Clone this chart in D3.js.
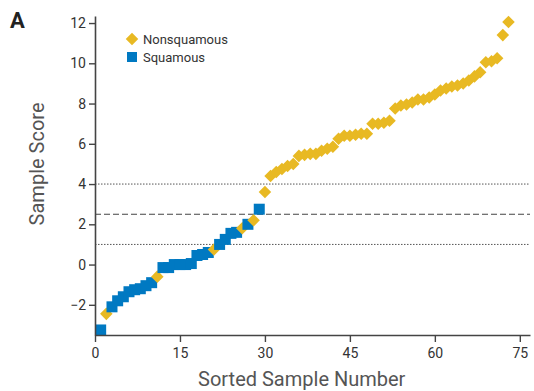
<!DOCTYPE html>
<html>
<head>
<meta charset="utf-8">
<script src="https://cdn.jsdelivr.net/npm/d3@7"></script>
<style>
  body { margin: 0; background: #fff; }
  text { font-family: "Liberation Sans Narrow", "Roboto", "Liberation Sans", sans-serif; }
</style>
</head>
<body>
<div id="chart"></div>
<script>
// Sample scores, sorted (sample number = index + 1)
const scores = [
  -3.25, -2.45, -2.1, -1.8, -1.6, -1.35, -1.25, -1.2, -1.05, -0.9,
  -0.6, -0.15, -0.15, 0.0, 0.0, 0.0, 0.05, 0.45, 0.5, 0.6,
  0.75, 1.0, 1.25, 1.55, 1.6, 1.8, 2.0, 2.2, 2.75, 3.6,
  4.4, 4.6, 4.75, 4.9, 5.0, 5.4, 5.45, 5.5, 5.5, 5.65,
  5.75, 5.85, 6.25, 6.4, 6.4, 6.45, 6.5, 6.5, 7.0, 7.0,
  7.05, 7.15, 7.75, 7.9, 7.95, 8.05, 8.2, 8.2, 8.3, 8.45,
  8.65, 8.75, 8.85, 8.9, 9.0, 9.15, 9.35, 9.55, 10.05, 10.1,
  10.25, 11.4, 12.05
];
// N = nonsquamous, S = squamous
const histology = [
  "S", "N", "S", "S", "S", "S", "S", "S", "S", "S",
  "N", "S", "S", "S", "S", "S", "S", "S", "S", "S",
  "N", "S", "S", "S", "S", "N", "S", "N", "S", "N",
  "N", "N", "N", "N", "N", "N", "N", "N", "N", "N",
  "N", "N", "N", "N", "N", "N", "N", "N", "N", "N",
  "N", "N", "N", "N", "N", "N", "N", "N", "N", "N",
  "N", "N", "N", "N", "N", "N", "N", "N", "N", "N",
  "N", "N", "N"
];
const xTicks = [0, 15, 30, 45, 60, 75];
const yTicks = [-2, 0, 2, 4, 6, 8, 10, 12];
const dottedLines = [4, 1];
const dashedLine = 2.5;

const W = 534, H = 391;
const margin = { top: 16, right: 4, bottom: 56, left: 95 };
const width = W - margin.left - margin.right,
      height = H - margin.top - margin.bottom;

const yellow = "#e8b923", blue = "#0079c2";

const svg = d3.select("#chart").append("svg")
  .attr("width", W).attr("height", H);
const g = svg.append("g")
  .attr("transform", `translate(${margin.left},${margin.top})`);

const x = d3.scaleLinear().domain([0, 76.8]).range([0, width]);
const y = d3.scaleLinear().domain([-3.5, 12.35]).range([height, 0]);

// reference lines
g.selectAll(".dot-line").data(dottedLines).enter().append("line")
  .attr("x1", 0).attr("x2", width)
  .attr("y1", d => y(d)).attr("y2", d => y(d))
  .attr("stroke", "#555").attr("stroke-width", 1)
  .attr("stroke-dasharray", "1.5,1.5");
g.append("line")
  .attr("x1", 0).attr("x2", width)
  .attr("y1", y(dashedLine)).attr("y2", y(dashedLine))
  .attr("stroke", "#444").attr("stroke-width", 1.2)
  .attr("stroke-dasharray", "6,3");

// points
const data = scores.map((v, i) => ({ n: i + 1, v, h: histology[i] }));
const diamond = d3.symbol().type(d3.symbolDiamond2).size(100);
data.forEach(d => {
  if (d.h === "N") {
    g.append("path")
      .attr("d", diamond())
      .attr("transform", `translate(${x(d.n)},${y(d.v)})`)
      .attr("fill", yellow);
  } else {
    g.append("rect")
      .attr("x", x(d.n) - 5.5).attr("y", y(d.v) - 5.5)
      .attr("width", 11).attr("height", 11)
      .attr("fill", blue);
  }
});

// axes
const axisColor = "#444";
const xAxis = g.append("g")
  .attr("transform", `translate(0,${height})`)
  .call(d3.axisBottom(x).tickValues(xTicks).tickSize(7).tickSizeOuter(0));
const yAxis = g.append("g")
  .call(d3.axisLeft(y).tickValues(yTicks).tickSize(6).tickSizeOuter(0));
[xAxis, yAxis].forEach(a => {
  a.select(".domain").attr("stroke", axisColor).attr("stroke-width", 1.6);
  a.selectAll(".tick line").attr("stroke", axisColor).attr("stroke-width", 1.4);
  a.selectAll(".tick text").attr("fill", "#333").attr("font-size", 14);
});
xAxis.selectAll(".tick text").attr("dy", "0.95em");

// axis titles
svg.append("text")
  .attr("x", margin.left + x(36.5)).attr("y", 386)
  .attr("text-anchor", "middle")
  .attr("font-size", 20).attr("fill", "#555")
  .text("Sorted Sample Number");
svg.append("text")
  .attr("transform", `translate(44,${margin.top + y(5.0)}) rotate(-90)`)
  .attr("text-anchor", "middle")
  .attr("font-size", 20).attr("fill", "#555")
  .text("Sample Score");

// panel letter
svg.append("text")
  .attr("x", 10).attr("y", 28)
  .attr("font-family", "Liberation Sans, Arial, sans-serif")
  .attr("font-weight", "bold").attr("font-size", 22).attr("fill", "#222")
  .text("A");

// legend
const legend = svg.append("g").attr("transform", "translate(132,39)");
legend.append("path").attr("d", diamond()).attr("fill", yellow);
legend.append("rect").attr("x", -5).attr("y", 13).attr("width", 10).attr("height", 10).attr("fill", blue);
legend.append("text").attr("x", 11).attr("y", 4.5).attr("font-size", 13).attr("fill", "#333").text("Nonsquamous");
legend.append("text").attr("x", 11).attr("y", 22.5).attr("font-size", 13).attr("fill", "#333").text("Squamous");
</script>
</body>
</html>
